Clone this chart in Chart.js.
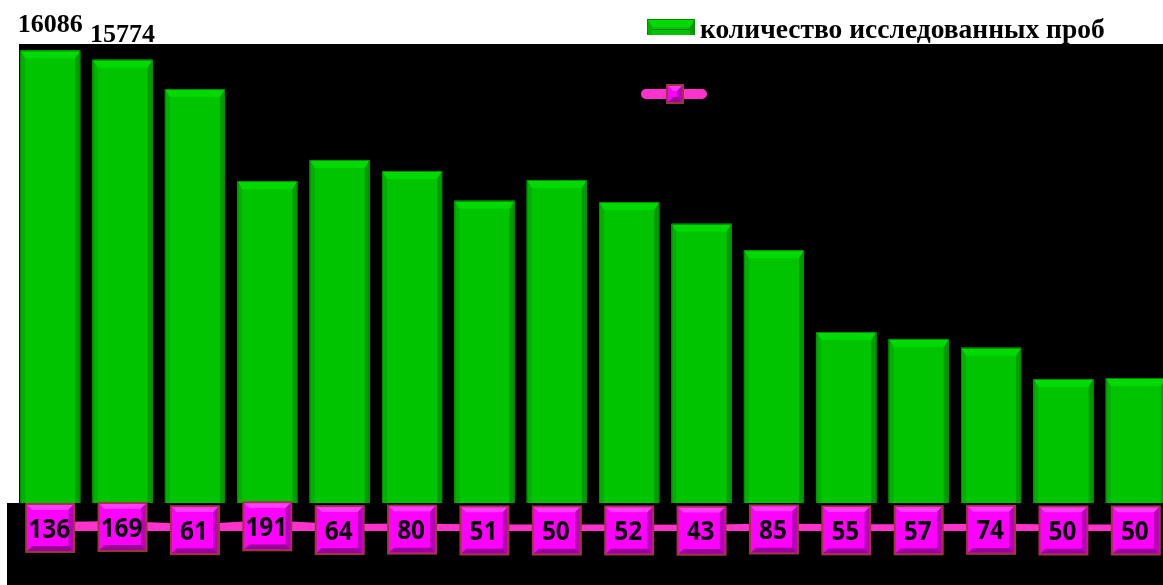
<!DOCTYPE html>
<html>
<head>
<meta charset="utf-8">
<script src="https://cdn.jsdelivr.net/npm/chart.js@4.4.1/dist/chart.umd.min.js"></script>
<style>
  html, body { margin: 0; padding: 0; background: #fff; overflow: hidden; }
  #wrap { width: 1172px; height: 585px; }
</style>
</head>
<body>
<div id="wrap"><canvas id="chart" width="1172" height="585"></canvas></div>
<script>
const categories = ["1", "2", "3", "4", "5", "6", "7", "8", "9", "10", "11", "12", "13", "14", "15", "16"];
const samplesTested = [16086, 15774, 14790, 11710, 12420, 12050, 11050, 11750, 11010, 10280, 9400, 6660, 6430, 6130, 5090, 5120];
const positives = [136, 169, 61, 191, 64, 80, 51, 50, 52, 43, 85, 55, 57, 74, 50, 50];
const seriesNames = ["количество исследованных проб", ""];
const topLabelBars = [0, 1];
const yMax = 16300;

const serif = "bold 27.5px 'Liberation Serif', 'Times New Roman', serif";
const serifNum = "bold 26px 'Liberation Serif', 'Times New Roman', serif";
const tagFont = "bold 27px 'Open Sans', 'Noto Sans', sans-serif";

function poly(ctx, pts, color) {
  ctx.fillStyle = color;
  ctx.beginPath();
  ctx.moveTo(pts[0][0], pts[0][1]);
  for (let i = 1; i < pts.length; i++) ctx.lineTo(pts[i][0], pts[i][1]);
  ctx.closePath();
  ctx.fill();
}

// green block with a chamfered top and shaded sides
function bevelBar(ctx, l, t, w, b) {
  const e = 5, d = 8;
  const r = l + w;
  poly(ctx, [[l, t], [r, t], [r - e, t + d], [l + e, t + d]], "#00da00");
  poly(ctx, [[l, t], [l + e, t + d], [l + e, b], [l, b]], "#00b200");
  poly(ctx, [[r, t], [r - e, t + d], [r - e, b], [r, b]], "#009c00");
  ctx.fillStyle = "#008a00";
  ctx.fillRect(l, t, w, 1);
  ctx.fillRect(l, t, 1, b - t);
  ctx.fillRect(r - 1, t, 1, b - t);
}

// magenta value tag
function drawTag(ctx, cx, cy, w, h, text) {
  const l = cx - w / 2, t = cy - h / 2;
  const r = l + w, b = t + h;
  ctx.fillStyle = "#9c3a3a";
  ctx.fillRect(l, t, w, h);
  ctx.fillStyle = "#ff00ff";
  ctx.fillRect(l + 2, t + 2, w - 4, h - 4);
  const i = 5;
  poly(ctx, [[l + 2, t + 2], [r - 2, t + 2], [r - 2 - i, t + 2 + i], [l + 2 + i, t + 2 + i]], "#ff3cff");
  poly(ctx, [[r - 2, t + 2], [r - 2, b - 2], [r - 2 - i, b - 2 - i], [r - 2 - i, t + 2 + i]], "#b800b8");
  poly(ctx, [[l + 2, b - 2], [r - 2, b - 2], [r - 2 - i, b - 2 - i], [l + 2 + i, b - 2 - i]], "#9a009a");
  ctx.fillStyle = "#ff00ff";
  ctx.fillRect(l + 2 + i, t + 2 + i, w - 4 - 2 * i, h - 4 - 2 * i);
  if (text) {
    // slightly narrowed digits so three of them fit the tag
    ctx.save();
    ctx.translate(cx - 1, cy + 2);
    ctx.scale(0.9, 1);
    ctx.fillStyle = "#000";
    ctx.font = tagFont;
    ctx.textAlign = "center";
    ctx.textBaseline = "middle";
    ctx.fillText(text, 0, 0);
    ctx.restore();
  }
}

const decor = {
  id: "decor",
  beforeDraw(chart) {
    const { ctx, chartArea, width, height } = chart;
    ctx.save();
    ctx.fillStyle = "#000";
    ctx.fillRect(19, chartArea.top, width - 19, height - chartArea.top);
    ctx.fillRect(7, 503, width - 7, height - 503);
    ctx.restore();
  },
  afterDatasetDraw(chart, args) {
    if (args.index !== 0) return;
    const { ctx, width, height } = chart;
    ctx.save();
    for (const bar of args.meta.data) {
      bevelBar(ctx, bar.x - bar.width / 2, bar.y, bar.width, bar.base);
    }
    // the strip under the plot hides the bar feet
    ctx.fillStyle = "#000";
    ctx.fillRect(7, 503, width - 7, height - 503);
    ctx.restore();
  },
  afterDatasetsDraw(chart) {
    const { ctx } = chart;
    const bars = chart.getDatasetMeta(0).data;
    const pts = chart.getDatasetMeta(1).data;
    ctx.save();

    pts.forEach((p, i) => drawTag(ctx, p.x, p.y + 1, 50, 50, String(positives[i])));

    ctx.fillStyle = "#000";
    ctx.font = serifNum;
    ctx.textAlign = "center";
    ctx.textBaseline = "alphabetic";
    for (const i of topLabelBars) {
      ctx.fillText(String(samplesTested[i]), bars[i].x, bars[i].y - 18);
    }

    // legend
    ctx.fillStyle = "#00c400";
    ctx.fillRect(647, 19, 48, 16);
    bevelBar(ctx, 647, 19, 48, 35);
    ctx.fillStyle = "#00c400";
    ctx.fillRect(652, 27, 38, 8);
    ctx.fillStyle = "#007a00";
    ctx.fillRect(652, 29, 38, 1);
    ctx.fillStyle = "#000";
    ctx.font = serif;
    ctx.textAlign = "left";
    ctx.fillText(chart.data.datasets[0].label, 700, 38);

    ctx.strokeStyle = "#ff33cc";
    ctx.lineWidth = 10;
    ctx.lineCap = "round";
    ctx.beginPath();
    ctx.moveTo(646, 94);
    ctx.lineTo(702, 94);
    ctx.stroke();
    drawTag(ctx, 675, 94, 18, 20, "");
    ctx.restore();
  }
};

new Chart(document.getElementById("chart"), {
  data: {
    labels: categories,
    datasets: [
      {
        type: "bar",
        label: seriesNames[0],
        data: samplesTested,
        backgroundColor: "#00c400",
        borderWidth: 0,
        barPercentage: 0.83,
        categoryPercentage: 1,
        order: 1
      },
      {
        type: "line",
        label: seriesNames[1],
        data: positives,
        borderColor: "#ff33cc",
        borderWidth: 10,
        pointRadius: 0,
        tension: 0,
        order: 0
      }
    ]
  },
  options: {
    responsive: false,
    animation: false,
    layout: { padding: { top: 44, bottom: 54, left: 14, right: 0 } },
    plugins: {
      legend: { display: false },
      tooltip: { enabled: false }
    },
    scales: {
      x: { display: false, offset: true, grid: { display: false } },
      y: { display: false, min: 0, max: yMax }
    }
  },
  plugins: [decor]
});
</script>
</body>
</html>
